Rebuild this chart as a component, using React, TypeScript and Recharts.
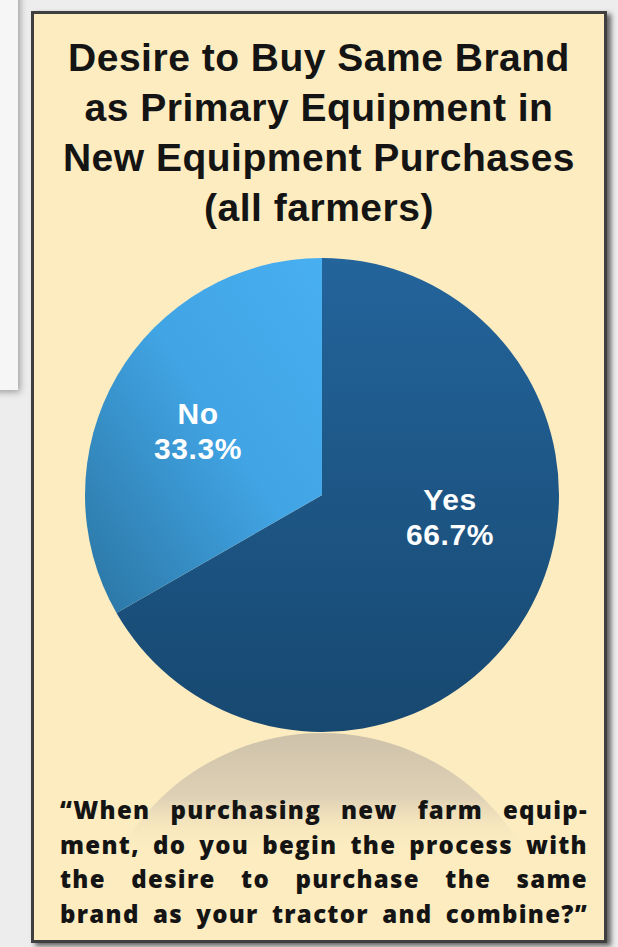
import React from "react"
import { PieChart, Pie, Cell } from "recharts"

// survey answers, clockwise from 12 o'clock
const CATEGORIES = ["Yes", "No"]
const SHARES = [66.7, 33.3]

const TITLE_LINES = [
  "Desire to Buy Same Brand",
  "as Primary Equipment in",
  "New Equipment Purchases",
  "(all farmers)",
]

const QUOTE_LINES = [
  "\u201CWhen purchasing new farm equip-",
  "ment, do you begin the process with",
  "the desire to purchase the same",
  "brand as your tractor and combine?\u201D",
]

const FILLS = ["url(#yesFill)", "url(#noFill)"]
// label centre relative to pie centre, per slice
const LABEL_OFFSETS = [
  [128, 21],
  [-124, -65],
]

const BEIGE = "#fcecc0"

const chartData = CATEGORIES.map((name, i) => ({ name, value: SHARES[i] }))

function SliceLabel(props: any) {
  const { cx, cy, index, name, value } = props
  const [dx, dy] = LABEL_OFFSETS[index]
  const x = cx + dx
  const y = cy + dy
  const common = {
    x,
    textAnchor: "middle" as const,
    dominantBaseline: "central" as const,
    fill: "#ffffff",
    fontFamily: "'Liberation Sans', Arial, sans-serif",
    fontWeight: 700,
    fontSize: 30,
    letterSpacing: 0.6,
  }
  return (
    <g>
      <text {...common} y={y - 17}>
        {name}
      </text>
      <text {...common} y={y + 18}>
        {`${Number(value).toFixed(1)}%`}
      </text>
    </g>
  )
}

export default function App() {
  return (
    <div
      style={{
        position: "absolute",
        left: 0,
        top: 0,
        width: 618,
        height: 947,
        overflow: "hidden",
        background: "#ededed",
      }}
    >
      {/* page card peeking in on the left */}
      <div
        style={{
          position: "absolute",
          left: -20,
          top: -10,
          width: 38,
          height: 400,
          background: "#f6f6f6",
          boxShadow: "2px 2px 7px rgba(0,0,0,0.35)",
        }}
      />

      {/* beige panel */}
      <div
        style={{
          position: "absolute",
          left: 31,
          top: 11,
          width: 570,
          height: 926,
          background: BEIGE,
          border: "3px solid #3f3f3f",
          boxShadow: "4px 3px 5px rgba(0,0,0,0.6)",
        }}
      />

      {/* gradients + reflection under the pie */}
      <svg
        width={618}
        height={947}
        style={{ position: "absolute", left: 0, top: 0 }}
      >
        <defs>
          <linearGradient id="yesFill" x1="0" y1="0" x2="0" y2="1">
            <stop offset="0%" stopColor="#23649b" />
            <stop offset="100%" stopColor="#174870" />
          </linearGradient>
          <linearGradient id="noFill" x1="1" y1="0" x2="0" y2="1">
            <stop offset="0%" stopColor="#48aff0" />
            <stop offset="45%" stopColor="#41a4e4" />
            <stop offset="100%" stopColor="#2a74a1" />
          </linearGradient>
          <linearGradient id="reflect" gradientUnits="userSpaceOnUse" x1="0" y1="733" x2="0" y2="850">
            <stop offset="0%" stopColor="#cdc1aa" stopOpacity={1} />
            <stop offset="55%" stopColor="#d9ccb3" stopOpacity={0.85} />
            <stop offset="100%" stopColor={BEIGE} stopOpacity={0} />
          </linearGradient>
        </defs>
        <ellipse cx={322} cy={965} rx={232} ry={232} fill="url(#reflect)" />
      </svg>

      <div
        style={{
          position: "absolute",
          left: 34,
          top: 33,
          width: 570,
          textAlign: "center",
          fontFamily: "'Liberation Sans', Arial, sans-serif",
          fontWeight: 700,
          fontSize: 39,
          lineHeight: "50px",
          letterSpacing: 0.5,
          color: "#141414",
        }}
      >
        {TITLE_LINES.map((t) => (
          <div key={t}>{t}</div>
        ))}
      </div>

      <div style={{ position: "absolute", left: 0, top: 240 }}>
        <PieChart width={618} height={520} margin={{ top: 0, right: 0, bottom: 0, left: 0 }}>
          <Pie
            data={chartData}
            dataKey="value"
            nameKey="name"
            cx={322}
            cy={255}
            outerRadius={237}
            startAngle={90}
            endAngle={-270}
            stroke="none"
            label={SliceLabel}
            labelLine={false}
            isAnimationActive={false}
          >
            {chartData.map((d, i) => (
              <Cell key={d.name} fill={FILLS[i]} />
            ))}
          </Pie>
        </PieChart>
      </div>

      <div
        style={{
          position: "absolute",
          left: 60,
          top: 793,
          width: 528,
          fontFamily: "'Open Sans', sans-serif",
          fontWeight: 800,
          fontSize: 24,
          lineHeight: "34.5px",
          letterSpacing: 1.3,
          color: "#141414",
        }}
      >
        {QUOTE_LINES.map((t) => (
          <div key={t} style={{ textAlign: "justify", textAlignLast: "justify" }}>
            {t}
          </div>
        ))}
      </div>
    </div>
  )
}
